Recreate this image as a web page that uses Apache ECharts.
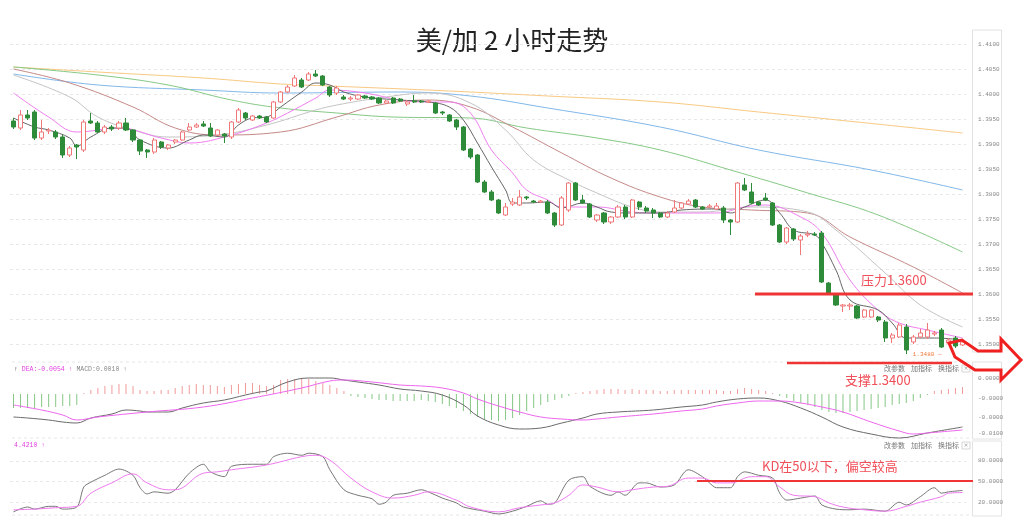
<!DOCTYPE html>
<html><head><meta charset="utf-8">
<script src="https://cdn.jsdelivr.net/npm/echarts@6/dist/echarts.min.js"></script>
<style>html,body{margin:0;padding:0;background:#fff}#c{width:1024px;height:518px}</style>
</head><body><div id="c"></div>
<script>
// [open, close, low, high]
const ohlc = [
[1.3946,1.3934,1.3930,1.3952],[1.3932,1.3958,1.3928,1.3968],[1.3958,1.3952,1.3948,1.3968],[1.3964,1.3912,1.3908,1.3968],
[1.3912,1.3924,1.3908,1.3948],[1.3926,1.3928,1.3920,1.3932],[1.3924,1.3914,1.3910,1.3928],[1.3914,1.3878,1.3872,1.3918],
[1.3878,1.3892,1.3874,1.3896],[1.3898,1.3894,1.3870,1.3900],[1.3888,1.3944,1.3884,1.3948],[1.3946,1.3942,1.3940,1.3962],
[1.3942,1.3924,1.3922,1.3946],[1.3924,1.3934,1.3920,1.3938],[1.3934,1.3930,1.3926,1.3938],[1.3932,1.3942,1.3928,1.3946],
[1.3942,1.3928,1.3926,1.3952],[1.3928,1.3908,1.3904,1.3930],[1.3908,1.3886,1.3878,1.3910],[1.3888,1.3884,1.3872,1.3890],
[1.3884,1.3908,1.3880,1.3912],[1.3904,1.3894,1.3890,1.3906],[1.3892,1.3898,1.3888,1.3900],[1.3904,1.3908,1.3900,1.3910],
[1.3908,1.3924,1.3906,1.3926],[1.3928,1.3934,1.3926,1.3942],[1.3934,1.3938,1.3932,1.3942],[1.3940,1.3936,1.3934,1.3946],
[1.3932,1.3916,1.3914,1.3942],[1.3918,1.3928,1.3916,1.3930],[1.3920,1.3916,1.3902,1.3922],[1.3914,1.3944,1.3910,1.3946],
[1.3944,1.3968,1.3942,1.3972],[1.3962,1.3952,1.3948,1.3964],[1.3948,1.3956,1.3946,1.3958],[1.3956,1.3952,1.3950,1.3958],
[1.3954,1.3944,1.3942,1.3956],[1.3952,1.3984,1.3950,1.3986],[1.3984,1.4004,1.3982,1.4006],[1.4004,1.4014,1.4002,1.4018],
[1.4016,1.4032,1.4014,1.4038],[1.4028,1.4014,1.4012,1.4032],[1.4028,1.4040,1.4026,1.4044],[1.4040,1.4036,1.4034,1.4048],
[1.4036,1.4018,1.4016,1.4038],[1.4014,1.3998,1.3994,1.4016],[1.4002,1.4012,1.3998,1.4016],[1.3994,1.3990,1.3988,1.3998],
[1.3990,1.3992,1.3986,1.3996],[1.3990,1.3998,1.3988,1.4000],[1.3996,1.3992,1.3990,1.3998],[1.3994,1.3990,1.3988,1.3996],
[1.3992,1.3982,1.3980,1.3994],[1.3982,1.3986,1.3980,1.3988],[1.3992,1.3982,1.3980,1.3994],[1.3990,1.3986,1.3984,1.3992],
[1.3980,1.3984,1.3976,1.3988],[1.3986,1.3984,1.3982,1.3998],[1.3986,1.3984,1.3982,1.3988],[1.3984,1.3986,1.3982,1.3988],
[1.3982,1.3962,1.3960,1.3984],[1.3964,1.3962,1.3958,1.3966],[1.3958,1.3946,1.3944,1.3960],[1.3948,1.3934,1.3928,1.3950],
[1.3934,1.3888,1.3886,1.3936],[1.3890,1.3874,1.3870,1.3892],[1.3878,1.3824,1.3822,1.3880],[1.3824,1.3804,1.3802,1.3828],
[1.3804,1.3788,1.3786,1.3808],[1.3788,1.3762,1.3760,1.3790],[1.3758,1.3774,1.3756,1.3782],[1.3780,1.3784,1.3776,1.3792],
[1.3778,1.3794,1.3776,1.3808],[1.3794,1.3792,1.3788,1.3796],[1.3786,1.3784,1.3782,1.3788],[1.3784,1.3786,1.3782,1.3788],
[1.3784,1.3762,1.3760,1.3788],[1.3762,1.3738,1.3734,1.3764],[1.3738,1.3792,1.3736,1.3796],[1.3768,1.3822,1.3764,1.3824],
[1.3822,1.3788,1.3786,1.3824],[1.3788,1.3782,1.3780,1.3798],[1.3780,1.3754,1.3752,1.3782],[1.3748,1.3758,1.3744,1.3760],
[1.3762,1.3744,1.3740,1.3764],[1.3744,1.3754,1.3740,1.3756],[1.3754,1.3774,1.3752,1.3778],[1.3774,1.3754,1.3750,1.3778],
[1.3754,1.3788,1.3752,1.3790],[1.3784,1.3774,1.3768,1.3786],[1.3772,1.3766,1.3762,1.3776],[1.3768,1.3762,1.3752,1.3772],
[1.3762,1.3754,1.3752,1.3764],[1.3754,1.3762,1.3752,1.3766],[1.3764,1.3772,1.3762,1.3788],[1.3772,1.3782,1.3770,1.3784],
[1.3780,1.3786,1.3778,1.3790],[1.3788,1.3774,1.3772,1.3790],[1.3774,1.3770,1.3768,1.3776],[1.3774,1.3776,1.3772,1.3780],
[1.3770,1.3776,1.3768,1.3782],[1.3772,1.3748,1.3742,1.3776],[1.3748,1.3744,1.3718,1.3750],[1.3744,1.3822,1.3742,1.3824],
[1.3818,1.3808,1.3806,1.3832],[1.3804,1.3782,1.3780,1.3822],[1.3784,1.3778,1.3776,1.3786],[1.3792,1.3788,1.3786,1.3802],
[1.3782,1.3738,1.3736,1.3784],[1.3738,1.3704,1.3702,1.3740],[1.3704,1.3732,1.3700,1.3734],[1.3730,1.3710,1.3706,1.3732],
[1.3708,1.3716,1.3678,1.3720],[1.3718,1.3720,1.3714,1.3726],[1.3720,1.3718,1.3716,1.3724],[1.3722,1.3624,1.3622,1.3726],
[1.3622,1.3602,1.3600,1.3624],[1.3598,1.3578,1.3576,1.3600],[1.3576,1.3578,1.3564,1.3580],[1.3576,1.3578,1.3568,1.3582],
[1.3576,1.3552,1.3550,1.3578],[1.3554,1.3568,1.3552,1.3570],[1.3554,1.3568,1.3552,1.3570],[1.3554,1.3548,1.3544,1.3556],
[1.3544,1.3512,1.3504,1.3548],[1.3512,1.3518,1.3502,1.3522],[1.3514,1.3538,1.3512,1.3542],[1.3534,1.3488,1.3480,1.3540],
[1.3504,1.3514,1.3500,1.3518],[1.3514,1.3522,1.3512,1.3530],[1.3514,1.3528,1.3510,1.3542],[1.3520,1.3522,1.3516,1.3526],
[1.3528,1.3494,1.3492,1.3532],[1.3502,1.3508,1.3498,1.3512],[1.3512,1.3496,1.3492,1.3516],[1.3498,1.3504,1.3496,1.3508]
];
const ma5 = [[0,1.3952],[3,1.3934],[5,1.3928],[8,1.3912],[9,1.3896],[11,1.3914],[14,1.3932],[16,1.3932],[18,1.3908],[22,1.3892],[25,1.3908],[27,1.3918],[30,1.3914],[32,1.3938],[34,1.3952],[36,1.3954],[38,1.3974],[41,1.4004],[43,1.4022],[45,1.4018],[47,1.4004],[50,1.3994],[55,1.3988],[59,1.3984],[62,1.3974],[64,1.3948],[66,1.3902],[68,1.3854],[70,1.3808],[71,1.3782],[73,1.3782],[76,1.3784],[78,1.3772],[81,1.3782],[83,1.3774],[85,1.3764],[88,1.3762],[92,1.3762],[95,1.3768],[100,1.3770],[102,1.3762],[104,1.3774],[107,1.3788],[109,1.3762],[111,1.3728],[114,1.3718],[115,1.3702],[117,1.3648],[119,1.3588],[123,1.3568],[125,1.3542],[127,1.3512],[131,1.3512],[135,1.3508]];
const ma10 = [[0,1.4002],[5,1.3954],[9,1.3924],[15,1.3932],[21,1.3912],[25,1.3902],[31,1.3918],[36,1.3942],[39,1.3962],[43,1.3992],[45,1.4008],[50,1.4002],[55,1.3988],[59,1.3984],[62,1.3984],[65,1.3962],[68,1.3888],[71,1.3842],[73,1.3808],[76,1.3788],[78,1.3774],[83,1.3774],[88,1.3764],[92,1.3762],[100,1.3762],[104,1.3774],[107,1.3778],[112,1.3754],[115,1.3722],[119,1.3628],[123,1.3568],[126,1.3542],[130,1.3528],[135,1.3512]];
const ma20 = [[0,1.4038],[8,1.3994],[12,1.3954],[17,1.3928],[22,1.3914],[29,1.3918],[36,1.3938],[43,1.3968],[46,1.3978],[52,1.3992],[59,1.4002],[65,1.3982],[70,1.3928],[74,1.3868],[79,1.3828],[83,1.3802],[88,1.3774],[92,1.3764],[98,1.3764],[105,1.3774],[113,1.3764],[117,1.3728],[124,1.3642],[129,1.3578],[135,1.3534]];
const ma30 = [[0,1.4050],[8,1.4022],[17,1.3974],[23,1.3932],[29,1.3918],[38,1.3924],[46,1.3954],[52,1.3978],[59,1.3988],[65,1.3974],[71,1.3934],[78,1.3882],[85,1.3832],[92,1.3794],[98,1.3774],[105,1.3768],[113,1.3762],[119,1.3714],[128,1.3654],[135,1.3602]];
const ma60 = [[0,1.4054],[12,1.4038],[22,1.4018],[31,1.3988],[38,1.3972],[46,1.3962],[54,1.3954],[65,1.3952],[73,1.3932],[83,1.3912],[92,1.3888],[102,1.3848],[113,1.3802],[123,1.3758],[135,1.3684]];
const ma120 = [[0,1.4040],[12,1.4018],[27,1.4008],[38,1.4002],[55,1.4004],[65,1.3996],[76,1.3972],[92,1.3934],[106,1.3888],[122,1.3848],[135,1.3808]];
const ma200 = [[0,1.4054],[12,1.4044],[27,1.4032],[38,1.4020],[45,1.4016],[62,1.4006],[76,1.3996],[92,1.3984],[106,1.3964],[120,1.3944],[135,1.3922]];
const macdHist = [
-0.0021,-0.0021,-0.0021,-0.0021,-0.00195,-0.00195,-0.00195,-0.0018,-0.0018,-0.00165,
0.00015,0.0006,0.0009,0.0012,0.00135,0.0015,0.0015,0.0012,0.0006,0.00045,0.00045,0.0006,0.0006,0.0009,0.0012,0.00135,0.0015,0.00135,0.00135,0.0012,
0.00105,0.00135,0.0015,0.00165,0.00165,0.00135,0.0012,0.00135,0.0021,0.00225,0.00225,0.00225,0.00225,0.00195,0.00165,0.00135,0.0009,0.00045,
-0.0003,-0.00045,-0.0006,-0.00075,-0.0009,-0.0009,-0.00105,
-0.00105,-0.00105,-0.00105,-0.0009,-0.00105,-0.0012,-0.0015,-0.0018,-0.0021,-0.00255,-0.003,-0.00345,-0.00375,-0.0039,-0.00405,-0.0039,-0.0036,-0.00315,-0.00255,-0.0021,-0.00165,-0.0012,-0.0009,-0.0006,-0.0003,
0.00015,0.0003,0.00045,0.0006,0.00075,0.00075,0.00075,0.0006,0.00075,0.0006,0.0006,0.0006,0.00045,0.00045,0.0006,0.0006,0.0006,0.0006,0.0006,0.0006,0.0006,0.00045,0.00045,0.00075,0.0009,0.00075,0.0006,0.00045,
0.00015,
-0.0003,-0.0006,-0.00105,-0.00135,-0.00165,-0.00195,-0.0024,-0.0027,-0.00285,-0.00285,-0.0027,-0.00255,-0.0024,-0.00225,-0.0021,-0.00195,-0.00165,-0.0015,-0.00135,-0.00105,-0.0006,-0.00015,
0.00045,0.0006,0.00075,0.0009,0.00105
];
const dif = [[0,-0.00345],[2,-0.0036],[5,-0.0039],[7,-0.0042],[9,-0.00435],[11,-0.0036],[14,-0.003],[16,-0.0024],[18,-0.00255],[19,-0.0027],[22,-0.0027],[24,-0.0021],[27,-0.00135],[30,-0.0009],[33,-0.00015],[35,0.0003],[36,0.00045],[39,0.0018],[42,0.0024],[45,0.0024],[47,0.0021],[49,0.0018],[52,0.00135],[55,0.00075],[58,0.00045],[61,-0.00015],[64,-0.00165],[66,-0.0033],[69,-0.00465],[72,-0.00525],[75,-0.0051],[78,-0.00435],[81,-0.0036],[83,-0.003],[86,-0.0027],[91,-0.0024],[95,-0.00195],[98,-0.00165],[100,-0.0012],[103,-0.00075],[106,-0.0006],[109,-0.00105],[112,-0.0021],[115,-0.00345],[118,-0.00495],[122,-0.006],[126,-0.0066],[130,-0.00585],[135,-0.00495]];
const dea = [[0,-0.00165],[4,-0.0024],[7,-0.00315],[9,-0.0039],[12,-0.00345],[19,-0.0027],[27,-0.00195],[34,-0.0006],[41,0.0009],[45,0.00195],[47,0.0021],[51,0.0018],[55,0.00135],[58,0.0012],[61,0.0009],[64,0.00015],[66,-0.00075],[69,-0.0018],[72,-0.0027],[75,-0.00345],[78,-0.00375],[81,-0.0039],[83,-0.00375],[86,-0.00345],[91,-0.003],[95,-0.00255],[98,-0.00225],[100,-0.0018],[103,-0.00135],[106,-0.00105],[109,-0.00105],[112,-0.00135],[115,-0.00195],[118,-0.0027],[122,-0.0042],[126,-0.00555],[128,-0.006],[130,-0.00585],[135,-0.0054]];
const kLine = [[0,6],[2,13],[3,10],[5,14],[6,14],[7,10],[9,13],[10,42],[11,49],[13,59],[15,68],[17,59],[18,41],[19,32],[20,35],[22,33],[23,38],[25,62],[27,75],[28,64],[30,57],[31,72],[34,75],[36,75],[37,86],[39,91],[41,88],[42,91],[44,86],[45,67],[47,38],[49,30],[51,25],[52,17],[53,20],[54,30],[56,33],[58,38],[59,35],[61,26],[63,19],[64,13],[67,7],[69,3],[71,7],[73,14],[75,22],[76,17],[77,19],[79,52],[81,57],[82,43],[85,30],[86,35],[87,30],[89,48],[90,48],[92,42],[94,45],[96,67],[98,57],[99,48],[100,41],[102,41],[103,57],[104,64],[106,59],[108,55],[109,33],[110,23],[112,26],[114,29],[115,16],[117,10],[119,9],[121,10],[124,7],[126,20],[127,16],[129,28],[131,41],[132,33],[133,35],[135,37]];
const dLine = [[0,9],[3,10],[6,12],[9,14],[11,33],[14,48],[17,61],[19,48],[22,38],[23,38],[27,62],[29,64],[31,67],[36,74],[41,86],[43,88],[45,81],[48,55],[51,35],[54,26],[57,30],[59,35],[63,23],[65,13],[69,6],[72,12],[75,16],[77,19],[79,30],[81,45],[83,42],[86,35],[88,38],[91,42],[93,43],[96,55],[98,55],[100,48],[102,48],[105,57],[107,57],[109,42],[111,30],[114,28],[116,19],[118,13],[121,9],[124,7],[127,14],[129,20],[132,28],[133,33],[135,34]];
const priceTicks = [1.35,1.355,1.36,1.365,1.37,1.375,1.38,1.385,1.39,1.395,1.40,1.405,1.41];
const macdTicks = [0.0024,-0.0006,-0.00345,-0.00585];
const macdTickText = ['0.0000','-0.0000','-0.0000','-0.0100'];
const kdTicks = [20,50,80];
const categories = ohlc.map((d, i) => String(i + 1));

const chart = echarts.init(document.getElementById('c'), null, {renderer: 'canvas'});
const smallFont = {fontSize: 6, fontFamily: 'Liberation Mono', color: '#888'};
const gl = {left: 10, right: 58};
function xa(i) {
  return {type: 'category', gridIndex: i, data: categories, boundaryGap: true,
    axisLine: {show: false}, axisTick: {show: false}, axisLabel: {show: false}, splitLine: {show: false}};
}
function maLine(name, data, color, w) {
  return {name, type: 'line', xAxisIndex: 0, yAxisIndex: 0, data, smooth: 0.4, symbol: 'none',
    lineStyle: {color, width: w || 1}, z: 3, silent: true};
}
const red = '#ee3434';
const btnFont = '7px "Noto Sans CJK SC"';
function btnRow(y) {
  return [
    {type: 'text', left: 884, top: y - 4, style: {text: '改参数', font: btnFont, fill: '#777'}},
    {type: 'text', left: 911, top: y - 4, style: {text: '加指标', font: btnFont, fill: '#777'}},
    {type: 'text', left: 938, top: y - 4, style: {text: '换指标', font: btnFont, fill: '#777'}},
    {type: 'rect', shape: {x: 962, y: y - 4, width: 8, height: 7}, style: {fill: '#fff', stroke: '#ccc', lineWidth: 0.8}},
    {type: 'text', left: 963.5, top: y - 4, style: {text: '×', font: '6px "DejaVu Sans"', fill: '#999'}}
  ];
}
function dash(y) {
  return {type: 'line', shape: {x1: 12, y1: y, x2: 972, y2: y}, style: {stroke: '#e6e6e6', lineWidth: 1, lineDash: [3, 3]}, silent: true};
}
const option = {
  animation: false,
  backgroundColor: '#fff',
  grid: [
    {left: gl.left, right: gl.right, top: 30, height: 325},
    {left: gl.left, right: gl.right, top: 365, height: 75},
    {left: gl.left, right: gl.right, top: 447, height: 69}
  ],
  xAxis: [xa(0), xa(1), xa(2)],
  yAxis: [
    {type: 'value', gridIndex: 0, position: 'right', offset: 6, min: 1.3478, max: 1.4128,
      axisLine: {show: false}, axisTick: {show: false, customValues: priceTicks},
      axisLabel: Object.assign({customValues: priceTicks, margin: 6, formatter: v => v.toFixed(4)}, smallFont),
      splitLine: {show: true, lineStyle: {color: '#e8e8e8', type: [3, 3]}}},
    {type: 'value', gridIndex: 1, position: 'right', offset: 6, min: -0.0069, max: 0.00435,
      axisLine: {show: false}, axisTick: {show: false, customValues: macdTicks},
      axisLabel: Object.assign({customValues: macdTicks, margin: 6, formatter: v => {
        let i = macdTicks.findIndex(t => Math.abs(t - v) < 1e-7); return i >= 0 ? macdTickText[i] : '';
      }}, smallFont),
      splitLine: {show: false}},
    {type: 'value', gridIndex: 2, position: 'right', offset: 6, min: 0, max: 100,
      axisLine: {show: false}, axisTick: {show: false, customValues: kdTicks},
      axisLabel: Object.assign({customValues: kdTicks, margin: 6, formatter: v => v.toFixed(4)}, smallFont),
      splitLine: {show: true, lineStyle: {color: '#e8e8e8', type: [3, 3]}}}
  ],
  series: [
    {type: 'candlestick', xAxisIndex: 0, yAxisIndex: 0, data: ohlc, barWidth: 4.6, z: 5,
      itemStyle: {color: '#ffffff', color0: '#2e8b3a', borderColor: '#f07878', borderColor0: '#2e8b3a', borderWidth: 1},
      markPoint: {symbol: 'circle', symbolSize: 1, itemStyle: {color: 'rgba(0,0,0,0)'},
        data: [{type: 'min', valueDim: 'lowest'}],
        label: {show: true, position: 'right', distance: 6, formatter: p => p.value.toFixed(4) + ' —',
          color: '#f07a3a', fontSize: 6, fontFamily: 'Liberation Mono'}}},
    maLine('MA200', ma200, '#f9c983'),
    maLine('MA120', ma120, '#82b8ea'),
    maLine('MA60', ma60, '#86c986'),
    maLine('MA30', ma30, '#c48a88'),
    maLine('MA20', ma20, '#c4c4c4'),
    maLine('MA10', ma10, '#f07ef0'),
    maLine('MA5', ma5, '#666666'),
    {type: 'bar', xAxisIndex: 1, yAxisIndex: 1, data: macdHist, barWidth: 1,
      itemStyle: {color: p => p.value >= 0 ? '#f29a9a' : '#84c784'}},
    {type: 'line', xAxisIndex: 1, yAxisIndex: 1, data: dif, smooth: 0.4, symbol: 'none', lineStyle: {color: '#6a6a6a', width: 1}},
    {type: 'line', xAxisIndex: 1, yAxisIndex: 1, data: dea, smooth: 0.4, symbol: 'none', lineStyle: {color: '#ee66ee', width: 1}},
    {type: 'line', xAxisIndex: 2, yAxisIndex: 2, data: kLine, smooth: 0.3, symbol: 'none', lineStyle: {color: '#777777', width: 1}},
    {type: 'line', xAxisIndex: 2, yAxisIndex: 2, data: dLine, smooth: 0.4, symbol: 'none', lineStyle: {color: '#f07af0', width: 1}}
  ],
  graphic: [
    {type: 'rect', shape: {x: 972.5, y: 30, width: 29, height: 322}, style: {fill: 'none', stroke: '#e2e2e2', lineWidth: 1}, silent: true},
    {type: 'rect', shape: {x: 972.5, y: 362, width: 29, height: 77}, style: {fill: 'none', stroke: '#e2e2e2', lineWidth: 1}, silent: true},
    {type: 'rect', shape: {x: 972.5, y: 441, width: 29, height: 75}, style: {fill: 'none', stroke: '#e2e2e2', lineWidth: 1}, silent: true},
    dash(362), dash(438), dash(515),
    {type: 'text', left: 'center', top: 27, style: {text: '美/加 2 小时走势', font: '26px "Noto Sans CJK SC"', fill: '#222'}},
    {type: 'text', left: 14, top: 366, style: {
      text: '{a|↑} {b|DEA:-0.0054 ↑} {c|MACD:0.0010 ↑}', font: '6.5px "Liberation Mono"',
      rich: {a: {fill: '#444', font: '6.5px "Liberation Mono"'}, b: {fill: '#e040e0', font: '6.5px "Liberation Mono"'}, c: {fill: '#888', font: '6.5px "Liberation Mono"'}}}},
    {type: 'text', left: 14, top: 442, style: {text: '4.4210 ↑', font: '6.5px "Liberation Mono"', fill: '#e040e0'}},
    ...btnRow(369), ...btnRow(446),
    {type: 'line', shape: {x1: 755, y1: 294, x2: 973, y2: 294}, style: {stroke: red, lineWidth: 3}, z: 100},
    {type: 'text', left: 861, top: 274, style: {text: '压力1.3600', font: '13px "Noto Sans CJK SC"', fill: '#f0505a'}, z: 100},
    {type: 'line', shape: {x1: 787, y1: 363, x2: 952, y2: 363}, style: {stroke: red, lineWidth: 2.5}, z: 100},
    {type: 'text', left: 845, top: 374, style: {text: '支撑1.3400', font: '13px "Noto Sans CJK SC"', fill: '#f0505a'}, z: 100},
    {type: 'polygon', shape: {points: [[949,343],[962,340],[978,351],[1001,351],[1001,339],[1021,360],[1001,380],[1001,370],[975,370],[955,357]]},
      style: {fill: 'none', stroke: '#f02020', lineWidth: 3, lineJoin: 'miter'}, z: 100},
    {type: 'line', shape: {x1: 697, y1: 481, x2: 973, y2: 481}, style: {stroke: red, lineWidth: 2}, z: 100},
    {type: 'text', left: 762, top: 460, style: {text: 'KD在50以下，偏空较高', font: '13px "Noto Sans CJK SC"', fill: '#f0505a'}, z: 100}
  ]
};
chart.setOption(option);
</script></body></html>
